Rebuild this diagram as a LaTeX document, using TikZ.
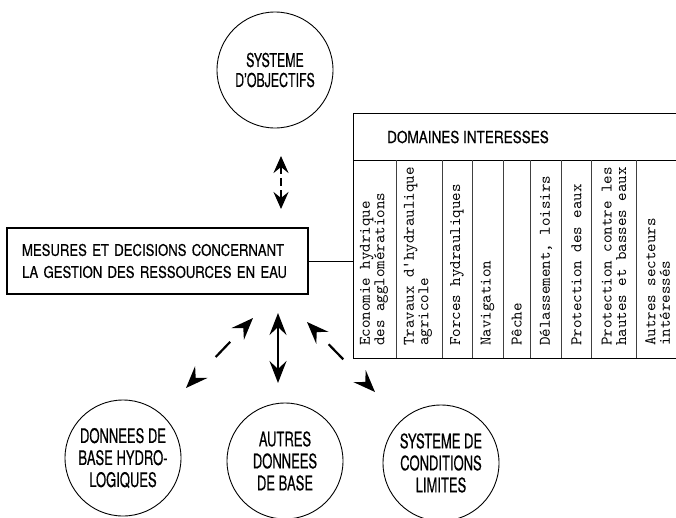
\documentclass[tikz,border=0pt]{standalone}
\usepackage{fontspec}
\newfontfamily\letA[FakeStretch=0.82,FakeBold=0.4]{TeX Gyre Heros}
\newfontfamily\letB[FakeStretch=0.65,FakeBold=0.4]{TeX Gyre Heros}
\newfontfamily\typew{lmmono10-regular.otf}
\usetikzlibrary{arrows.meta}
\begin{document}
\begin{tikzpicture}[x=1pt,y=-1pt,
  bubble/.style={draw, circle, line width=0.9pt, minimum size=116pt, inner sep=0pt, align=center},
  bubtext/.style={font=\letB\fontsize{20}{22}\selectfont},
  boxnode/.style={draw, line width=1.1pt, minimum height=66pt, text width=271pt, inner xsep=15pt, inner ysep=0pt, align=left, font=\letA\fontsize{16}{22}\selectfont},
  conn/.style={line width=2.2pt, {Stealth[length=22pt,width=17pt,inset=8pt]}-{Stealth[length=22pt,width=17pt,inset=8pt]}},
  shortconn/.style={line width=2.2pt, {Stealth[length=17pt,width=15pt,inset=6pt]}-{Stealth[length=17pt,width=15pt,inset=6pt]}},
  coltext/.style={rotate=90, anchor=west, align=left, inner sep=0pt, font=\typew\fontsize{16.2}{14.5}\selectfont},
  sep/.style={line width=0.6pt, draw=black!75},
  tablebox/.style={draw, line width=0.9pt, minimum width=340pt, minimum height=245pt, inner sep=0pt, anchor=north west}
]
\useasboundingbox (0,0) rectangle (676,517);
\clip (0,0) rectangle (676,517);

% circles
\node[bubble, font=\letB\fontsize{19}{20}\selectfont] (obj) at (275,70) {SYSTEME\\D’OBJECTIFS};
\node[bubble, bubtext] (hyd) at (123,458) {DONNEES DE\\BASE HYDRO-\\LOGIQUES};
\node[bubble, bubtext] (aut) at (285,461) {AUTRES\\DONNEES\\DE BASE};
\node[bubble, bubtext] (lim) at (441,463) {SYSTEME DE\\CONDITIONS\\LIMITES};

% main box
\node[boxnode] (m) at (157.5,261) {MESURES ET DECISIONS CONCERNANT\\LA GESTION DES RESSOURCES EN EAU};

% table
\node[tablebox] (dom) at (353,113) {};
\node[font=\letA\fontsize{16.5}{18}\selectfont, inner sep=0pt] (hdr) at (468,137) {DOMAINES INTERESSES};
\coordinate (hl) at (353,160);
\coordinate (hr) at (693,160);
\draw[line width=0.7pt] (hl) -- (hr);
\foreach \x in {396,442,472,503,530,561,591,636}{
  \draw[sep] (\x,160) -- (\x,358);
}
\node[coltext] (c1) at (374,346) {Economie hydrique\\des agglomérations};
\node[coltext] (c2) at (418,346) {Travaux d\textquotesingle hydraulique\\agricole};
\node[coltext] (c3) at (457,346) {Forces hydrauliques};
\node[coltext] (c4) at (487.5,346) {Navigation};
\node[coltext] (c5) at (516.5,346) {Pêche};
\node[coltext] (c6) at (546,346) {Délassement, loisirs};
\node[coltext] (c7) at (576.5,346) {Protection des eaux};
\node[coltext] (c8) at (614,346) {Protection contre les\\hautes et basses eaux};
\node[coltext] (c9) at (657.5,346) {Autres secteurs\\intéressés};

% link box -> table
\draw[line width=0.9pt] (m.east) -- (m.east -| dom.west);

% arrow end points
\coordinate (a1) at (281,156);
\coordinate (a2) at (281,209);
\coordinate (b1) at (278,313);
\coordinate (b2) at (278,383);
\coordinate (l1) at (253,318);
\coordinate (l2) at (186,388);
\coordinate (r1) at (307,322);
\coordinate (r2) at (375,392);

\draw[shortconn, dash pattern=on 8pt off 4pt] (a1) -- (a2);
\draw[conn] (b1) -- (b2);
\draw[conn, dash pattern=on 0pt off 20pt on 21pt off 200pt] (l1) -- (l2);
\draw[conn, dash pattern=on 0pt off 18pt on 21pt off 200pt] (r1) -- (r2);
\end{tikzpicture}
\end{document}
